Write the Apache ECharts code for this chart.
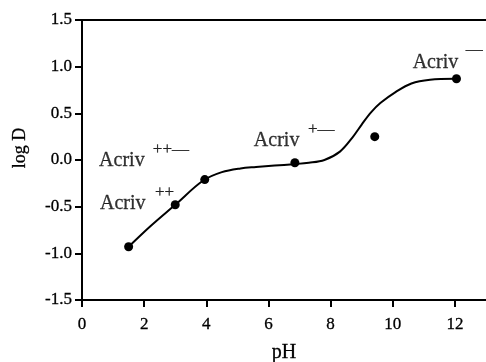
<!DOCTYPE html>
<html>
<head>
<meta charset="utf-8">
<script src="https://cdn.jsdelivr.net/npm/echarts@6/dist/echarts.min.js"></script>
<style>
  html, body { margin: 0; padding: 0; background: #fff; }
  #chart { width: 486px; height: 362px; }
</style>
</head>
<body>
<div id="chart"></div>
<script>
// Measured distribution points (pH, log D)
const measuredPH = [1.5, 3.0, 3.95, 6.85, 9.42, 12.05];
const measuredLogD = [-0.93, -0.48, -0.21, -0.03, 0.25, 0.87];

// Fitted curve through the pH range
const curvePH = [1.5, 2.2, 3.0, 3.9, 4.5, 5.1, 5.6, 6.2, 6.8, 7.3, 7.8, 8.3, 8.7, 9.0, 9.3, 9.6, 10.1, 10.6, 11.2, 12.0];
const curveLogD = [-0.93, -0.71, -0.48, -0.22, -0.13, -0.09, -0.075, -0.06, -0.045, -0.03, 0.0, 0.09, 0.24, 0.38, 0.51, 0.61, 0.73, 0.82, 0.86, 0.87];

// Species annotations: name anchor and charge superscript anchor (data units)
const speciesName = ['Acriv', 'Acriv', 'Acriv', 'Acriv'];
const speciesNameX = [0.55, 0.58, 5.53, 10.64];
const speciesNameY = [-0.01, -0.47, 0.21, 1.045];
const speciesCharge = ['++\u2014', '++', '+\u2014', '\u2014'];
const speciesChargeX = [2.28, 2.35, 7.27, 12.35];
const speciesChargeY = [0.11, -0.35, 0.33, 1.18];

// Axis ticks
const xTicks = [0, 2, 4, 6, 8, 10, 12];
const yTicks = [-1.5, -1.0, -0.5, 0.0, 0.5, 1.0, 1.5];

const serif = '"Liberation Serif", "DejaVu Serif", serif';
const ink = { color: '#000', textBorderColor: '#000', textBorderWidth: 0.3 };

const chart = echarts.init(document.getElementById('chart'), null, { renderer: 'canvas' });

const textPoint = (xs, ys, texts) => xs.map((x, i) => ({
  value: [x, ys[i]],
  label: { formatter: texts[i] }
}));

chart.setOption({
  animation: false,
  backgroundColor: '#fff',
  grid: { left: 82, right: 0, top: 20, bottom: 62, containLabel: false, outerBoundsMode: 'none' },
  xAxis: [{
    type: 'value',
    min: 0,
    max: 13,
    interval: 2,
    name: 'pH',
    nameLocation: 'middle',
    nameGap: 43,
    nameTextStyle: Object.assign({ fontFamily: serif, fontSize: 20 }, ink),
    axisLine: { show: true, onZero: false, lineStyle: { color: '#000', width: 2 } },
    axisTick: { show: true, length: 7, customValues: xTicks, lineStyle: { color: '#000', width: 2 } },
    axisLabel: Object.assign({
      customValues: xTicks,
      margin: 16,
      fontFamily: serif, fontSize: 17,
      formatter: v => String(v)
    }, ink),
    splitLine: { show: false }
  }, {
    type: 'value',
    position: 'top',
    min: 0,
    max: 13,
    axisLine: { show: true, onZero: false, lineStyle: { color: '#000', width: 2 } },
    axisTick: { show: false },
    axisLabel: { show: false },
    splitLine: { show: false }
  }],
  yAxis: {
    type: 'value',
    min: -1.5,
    max: 1.5,
    interval: 0.5,
    name: 'log D',
    nameLocation: 'middle',
    nameGap: 53,
    nameTextStyle: Object.assign({ fontFamily: serif, fontSize: 18, padding: [0, 0, 0, 24] }, ink),
    axisLine: { show: true, onZero: false, lineStyle: { color: '#000', width: 2 } },
    axisTick: { show: true, length: 7, customValues: yTicks, lineStyle: { color: '#000', width: 2 } },
    axisLabel: Object.assign({
      customValues: yTicks,
      margin: 10,
      fontFamily: serif, fontSize: 17,
      formatter: v => v.toFixed(1)
    }, ink),
    splitLine: { show: false }
  },
  series: [{
    type: 'line',
    data: curvePH.map((x, i) => [x, curveLogD[i]]),
    smooth: 0.35,
    symbol: 'none',
    lineStyle: { color: '#000', width: 2 },
    z: 2
  }, {
    type: 'scatter',
    data: measuredPH.map((x, i) => [x, measuredLogD[i]]),
    symbol: 'circle',
    symbolSize: 9,
    itemStyle: { color: '#000', opacity: 1 },
    z: 3
  }, {
    type: 'scatter',
    data: textPoint(speciesNameX, speciesNameY, speciesName),
    symbolSize: 0,
    silent: true,
    label: Object.assign({
      show: true, position: 'inside', align: 'left', verticalAlign: 'middle',
      fontFamily: serif, fontSize: 20
    }, ink),
    z: 4
  }, {
    type: 'scatter',
    data: textPoint(speciesChargeX, speciesChargeY, speciesCharge),
    symbolSize: 0,
    silent: true,
    label: Object.assign({
      show: true, position: 'inside', align: 'left', verticalAlign: 'middle',
      fontFamily: serif, fontSize: 17
    }, ink),
    z: 4
  }]
});
</script>
</body>
</html>
